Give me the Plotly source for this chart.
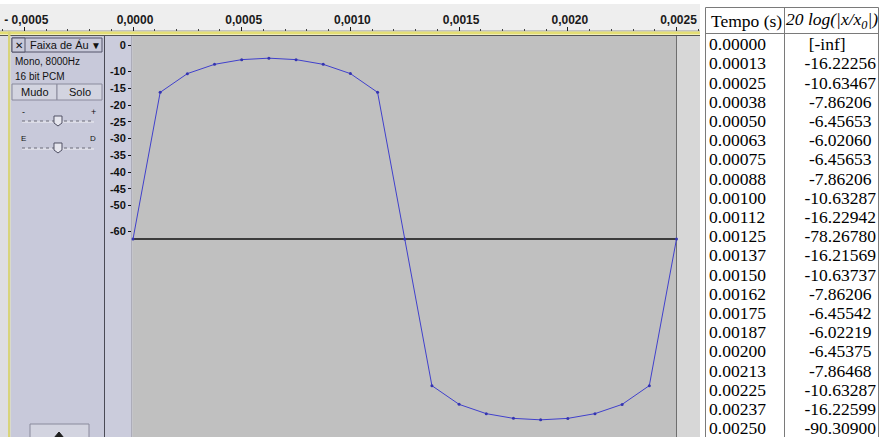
import plotly.graph_objects as go

W, H = 880, 437

# ---------------- data ----------------
sample_times = [0.0, 0.000125, 0.00025, 0.000375, 0.0005, 0.000625, 0.00075,
                0.000875, 0.001, 0.001125, 0.00125, 0.001375, 0.0015, 0.001625,
                0.00175, 0.001875, 0.002, 0.002125, 0.00225, 0.002375, 0.0025]
tempo_labels = ["0.00000", "0.00013", "0.00025", "0.00038", "0.00050", "0.00063",
                "0.00075", "0.00088", "0.00100", "0.00112", "0.00125", "0.00137",
                "0.00150", "0.00162", "0.00175", "0.00187", "0.00200", "0.00213",
                "0.00225", "0.00237", "0.00250"]
db_values = [float("-inf"), -16.22256, -10.63467, -7.86206, -6.45653, -6.02060,
             -6.45653, -7.86206, -10.63287, -16.22942, -78.26780, -16.21569,
             -10.63737, -7.86206, -6.45542, -6.02219, -6.45375, -7.86468,
             -10.63287, -16.22599, -90.30900]
db_labels = ["[-inf]", "-16.22256", "-10.63467", "-7.86206", "-6.45653", "-6.02060",
             "-6.45653", "-7.86206", "-10.63287", "-16.22942", "-78.26780", "-16.21569",
             "-10.63737", "-7.86206", "-6.45542", "-6.02219", "-6.45375", "-7.86468",
             "-10.63287", "-16.22599", "-90.30900"]
polarity = [1, 1, 1, 1, 1, 1, 1, 1, 1, 1, 1, -1, -1, -1, -1, -1, -1, -1, -1, -1, -1]
db_floor = 60  # dB range of the meter

y_tick_db = [0, -10, -15, -20, -25, -30, -35, -40, -45, -50, -60]
ruler_vals = [-0.0005, 0.0, 0.0005, 0.0010, 0.0015, 0.0020, 0.0025]
ruler_text = ["- 0,0005", "0,0000", "0,0005", "0,0010", "0,0015", "0,0020", "0,0025"]
header_text = ["Tempo (s)", "<i>20 log(|x/x<sub>0</sub>|)</i>"]

# ---------------- geometry ----------------
X0_PX, PX_PER_S, RIGHT_PX = 133, 217400.0, 700
YC_PX, PX_PER_DB = 239, 3.35
xrange_ = [(0 - X0_PX) / PX_PER_S, (RIGHT_PX - X0_PX) / PX_PER_S]
yrange_ = [(YC_PX - H) / PX_PER_DB, YC_PX / PX_PER_DB]


def X(px):
    return px / W


def Y(py):
    return 1 - py / H


display = [p * max(0.0, d + db_floor) for p, d in zip(polarity, db_values)]

# y tick positions (edge labels nudged inward like the original meter)
top_v = (YC_PX - 45) / PX_PER_DB
bot_v = (YC_PX - 231) / PX_PER_DB
y_tickvals = [min(max(d + db_floor, bot_v), top_v) for d in y_tick_db]
y_ticktext = [str(d) for d in y_tick_db]

minor_vals = [round(-0.0006 + 0.0001 * i, 4) for i in range(33)]

fig = go.Figure()

fig.add_trace(go.Scatter(
    x=sample_times, y=display, mode="lines+markers",
    line=dict(color="#4040cc", width=1),
    marker=dict(color="#3434b0", size=3),
    cliponaxis=False, hoverinfo="skip", showlegend=False))

fig.add_trace(go.Scatter(x=[0], y=[0], xaxis="x2", yaxis="y2", mode="markers",
                         marker=dict(size=1, opacity=0), hoverinfo="skip", showlegend=False))

NB = "\u00a0"
TBL_FONT = dict(family="Liberation Serif", size=17.5, color="black")
db_cells = [(NB * 4 + s) if s.startswith("-") else (s + NB * 2) for s in db_labels]
fig.add_trace(go.Table(
    domain=dict(x=[701 / W, 879 / W], y=[0, Y(7)]),
    columnwidth=[83, 95],
    header=dict(values=["", ""], height=22,
                fill_color="rgba(0,0,0,0)", line_color="rgba(0,0,0,0)",
                font=TBL_FONT),
    cells=dict(values=[tempo_labels, db_cells], height=19.2,
               align=["left", "center"],
               fill_color="rgba(0,0,0,0)", line_color="rgba(0,0,0,0)",
               font=TBL_FONT)))

shapes = []


def rect(x0, y0, x1, y1, fill, line=None, lw=1, layer="below"):
    shapes.append(dict(type="rect", xref="paper", yref="paper",
                       x0=X(x0), x1=X(x1), y0=Y(y0), y1=Y(y1),
                       fillcolor=fill, layer=layer,
                       line=dict(color=line or fill, width=lw if line else 0)))


def hline(x0, x1, y, color, lw=1, dash="solid", layer="below"):
    shapes.append(dict(type="line", xref="paper", yref="paper",
                       x0=X(x0), x1=X(x1), y0=Y(y), y1=Y(y), layer=layer,
                       line=dict(color=color, width=lw, dash=dash)))


def vline(x, y0, y1, color, lw=1, layer="below"):
    shapes.append(dict(type="line", xref="paper", yref="paper",
                       x0=X(x), x1=X(x), y0=Y(y0), y1=Y(y1), layer=layer,
                       line=dict(color=color, width=lw)))


def path(pts, fill, line, layer="below"):
    d = "M " + " L ".join(f"{X(a):.5f},{Y(b):.5f}" for a, b in pts) + " Z"
    shapes.append(dict(type="path", xref="paper", yref="paper", path=d,
                       fillcolor=fill, layer=layer, line=dict(color=line, width=1)))


LAV = "#c8c9da"
# ruler
rect(0, 4, 700, 31, "#eeeeee")
hline(0, 700, 31, "#9a9a9a")
rect(0, 31.5, 700, 34.5, "#e4de74")
hline(0, 700, 35.5, "#555555", 1.2)
# left strip
rect(0, 36, 8, 437, "#dedee2")
rect(8, 31.5, 10.5, 437, "#d8d47a")
# track info panel
rect(10.5, 36, 104, 437, LAV)
vline(104.5, 36, 437, "#4a4a55")
rect(105, 36, 132, 437, "#cbccdc")
vline(132, 36, 437, "#8c8c96")
# waveform background
shapes.append(dict(type="rect", xref="x", yref="paper", x0=0, x1=sample_times[-1],
                   y0=0, y1=Y(36), fillcolor="#c0c0c0", line=dict(width=0), layer="below"))
shapes.append(dict(type="rect", xref="x", yref="paper", x0=sample_times[-1], x1=xrange_[1],
                   y0=0, y1=Y(36), fillcolor="#d7d7d7", line=dict(width=0), layer="below"))
shapes.append(dict(type="line", xref="x", yref="paper", x0=sample_times[-1], x1=sample_times[-1],
                   y0=0, y1=Y(36), line=dict(color="#6e6e6e", width=1), layer="below"))
shapes.append(dict(type="line", xref="x", yref="y", x0=0, x1=sample_times[-1],
                   y0=0, y1=0, line=dict(color="#111111", width=1.3), layer="below"))

# header box
rect(12, 38, 102, 52, LAV, "#55556a")
rect(12, 38, 25, 52, LAV, "#55556a")
# buttons
rect(12, 84, 57, 100, "#d3d4e0", "#8a8a9c")
rect(57, 84, 102, 100, "#d3d4e0", "#8a8a9c")
# sliders
for yy in (121, 148):
    hline(22, 94, yy + 1, "#f0f0f4", 1)
    hline(22, 94, yy, "#6a6a78", 1, dash="dot")
    path([(54, yy - 5), (62, yy - 5), (62, yy + 2), (58, yy + 5), (54, yy + 2)],
         "#e6e6ee", "#505064")
# bottom button
rect(30, 424, 89, 440, "#d3d4e0", "#8a8a9c")
path([(54, 438), (59, 432), (64, 438)], "#1e1e1e", "#1e1e1e")

# table frame
rect(703, 0, 880, 437, "white")
shapes.append(dict(type="rect", xref="paper", yref="paper", x0=X(705.5), x1=X(878.5),
                   y0=Y(440), y1=Y(7.5), line=dict(color="#7a7a7a", width=1),
                   fillcolor="rgba(0,0,0,0)", layer="above"))
vline(784.5, 7.5, 437, "#7a7a7a", layer="above")
hline(705.5, 878.5, 33.5, "#7a7a7a", layer="above")

ann = []


def text(x, y, s, size=11, anchor="left", bold=False, color="#111111",
         family="Liberation Sans, DejaVu Sans"):
    ann.append(dict(x=X(x), y=Y(y), xref="paper", yref="paper", text=s,
                    showarrow=False, xanchor=anchor, yanchor="middle",
                    font=dict(family=family, size=size,
                              color=color, weight="bold" if bold else "normal")))


text(18.5, 45, "✕", 10, "center", bold=True)
text(28, 45, "Faixa de Áu", 11)
text(96, 45, "▼", 10, "center")
text(13, 61.5, "Mono, 8000Hz", 10)
text(13, 76, "16 bit PCM", 10)
text(34.5, 92, "Mudo", 11, "center")
text(79.5, 92, "Solo", 11, "center")
text(23, 112, "-", 9, "center")
text(93, 111.5, "+", 9, "center")
text(23, 138, "E", 8, "center")
text(93, 138, "D", 8, "center")
# table header
text(709, 21, header_text[0], 17.5, "left", color="black", family="Liberation Serif")
text(832, 21, header_text[1], 17.5, "center", color="black", family="Liberation Serif")

fig.update_layout(
    width=W, height=H, margin=dict(l=0, r=0, t=0, b=0, autoexpand=False),
    paper_bgcolor="white", plot_bgcolor="rgba(0,0,0,0)",
    showlegend=False, shapes=shapes, annotations=ann,
    xaxis=dict(domain=[0, RIGHT_PX / W], range=xrange_, visible=False, fixedrange=True,
               automargin=False),
    yaxis=dict(domain=[0, 1], range=yrange_, anchor="free", position=131 / W,
               tickmode="array", tickvals=y_tickvals, ticktext=y_ticktext,
               ticks="outside", ticklen=3, tickcolor="#111111", automargin=False,
               tickfont=dict(family="Liberation Sans", size=11, color="#111111", weight="bold"),
               showgrid=False, zeroline=False, showline=False, fixedrange=True),
    xaxis2=dict(domain=[0, RIGHT_PX / W], range=xrange_, anchor="y2", side="bottom",
                tickmode="array", tickvals=ruler_vals, ticktext=ruler_text,
                ticks="inside", ticklen=4, tickcolor="#222222", automargin=False,
                ticklabelposition="inside", ticklabelshift=2, ticklabelstandoff=0,
                tickfont=dict(family="Liberation Sans", size=12, color="#1a1a1a", weight="bold"),
                minor=dict(tickmode="array", tickvals=minor_vals, ticks="inside",
                           ticklen=2, tickcolor="#444444"),
                showgrid=False, zeroline=False, showline=False, fixedrange=True),
    yaxis2=dict(domain=[Y(31), Y(4)], range=[0, 1], visible=False, fixedrange=True,
                automargin=False),
)

fig.write_html("out.html", config={"displayModeBar": False},
               post_script="document.body.style.margin='0px';")
